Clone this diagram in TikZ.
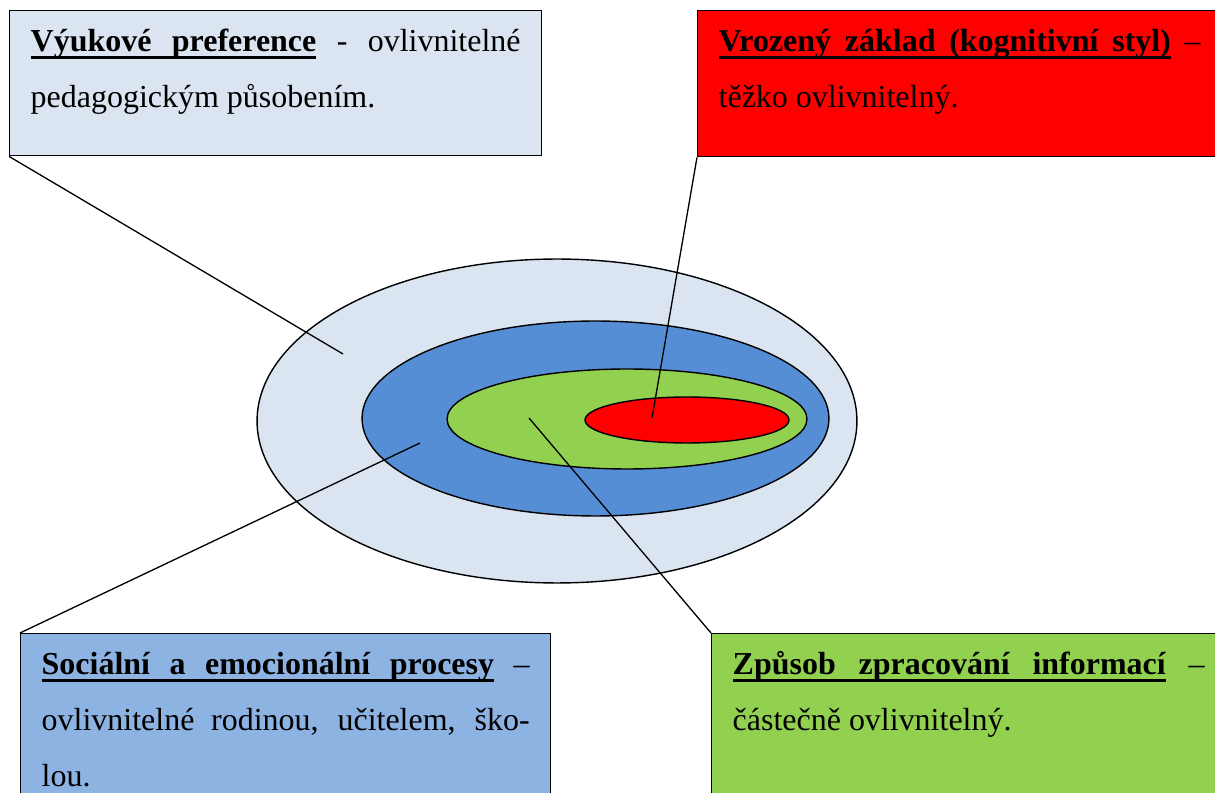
\documentclass[tikz,border=0pt]{standalone}
\usepackage{fontspec}
\setmainfont{Liberation Serif}
\usepackage{tikz}
\usetikzlibrary{shapes.geometric}
\definecolor{PrefBlue}{HTML}{DBE5F1}
\definecolor{SocBlue}{HTML}{8DB3E2}
\definecolor{RingBlue}{HTML}{558ED5}
\definecolor{ProcGreen}{HTML}{92D050}
\definecolor{BornRed}{HTML}{FF0000}
% underlined word and stretchable underlined space
\newcommand{\ulw}[1]{\setbox0\hbox{#1}\rlap{\vrule height -2.6pt depth 4.4pt width \wd0}\box0}
\newcommand{\uls}{\leaders\hrule height -2.6pt depth 4.4pt\hskip\fontdimen2\font plus\fontdimen3\font minus\fontdimen4\font\relax}
\newcommand{\boxpar}[3]{\parbox[t][#1][t]{#2}{\fontsize{18.2pt}{31.75pt}\selectfont\hyphenpenalty=10000\rule{0pt}{0.82cm}#3}}
\tikzset{
  sty/box/.style={draw, line width=0.8pt, anchor=north west, inner xsep=0.42cm, inner ysep=0pt},
  sty/ring/.style={draw, ellipse, line width=0.8pt, inner sep=0pt},
  sty/line/.style={line width=0.75pt}
}

\begin{document}
\begin{tikzpicture}[x=0.02cm, y=-0.02cm]
  \useasboundingbox (0,0) rectangle (1215,793);
  \clip (0,0) rectangle (1215,793);

  \node[sty/ring, fill=PrefBlue, minimum width=12cm, minimum height=6.48cm] (outer) at (557,421) {};
  \node[sty/ring, fill=RingBlue, minimum width=9.34cm, minimum height=3.9cm] (middle) at (595.5,418.5) {};
  \node[sty/ring, fill=ProcGreen, minimum width=7.2cm, minimum height=2cm] (inner) at (627,419) {};
  \node[sty/ring, fill=BornRed, minimum width=4.08cm, minimum height=0.92cm] (core) at (687,420) {};

  \node[sty/box, fill=PrefBlue] (pref) at (9,10)
    {\boxpar{2.9cm}{9.8cm}{\textbf{\ulw{Výukové}\uls\ulw{preference}} - ovlivnitelné\linebreak pedagogickým působením.}};
  \node[sty/box, fill=BornRed] (born) at (697,10)
    {\boxpar{2.92cm}{9.64cm}{\textbf{\ulw{Vrozený}\uls\ulw{základ}\uls\ulw{(kognitivní}\uls\ulw{styl)}} –\linebreak těžko ovlivnitelný.}};
  \node[sty/box, fill=SocBlue] (social) at (20,633)
    {\boxpar{3.6cm}{9.76cm}{\textbf{\ulw{Sociální}\uls\ulw{a}\uls\ulw{emocionální}\uls\ulw{procesy}} –\linebreak ovlivnitelné rodinou, učitelem, ško-\linebreak lou.}};
  \node[sty/box, fill=ProcGreen] (process) at (711,633)
    {\boxpar{3.6cm}{9.44cm}{\textbf{\ulw{Způsob}\uls\ulw{zpracování}\uls\ulw{informací}} –\linebreak částečně ovlivnitelný.}};

  \coordinate (prefend) at (343,354);
  \coordinate (bornend) at (652,418);
  \coordinate (socend) at (420,443);
  \coordinate (procend) at (529,418);

  \draw[sty/line] (pref.south west) -- (prefend);
  \draw[sty/line] (born.south west) -- (bornend);
  \draw[sty/line] (social.north west) -- (socend);
  \draw[sty/line] (process.north west) -- (procend);
\end{tikzpicture}
\end{document}
